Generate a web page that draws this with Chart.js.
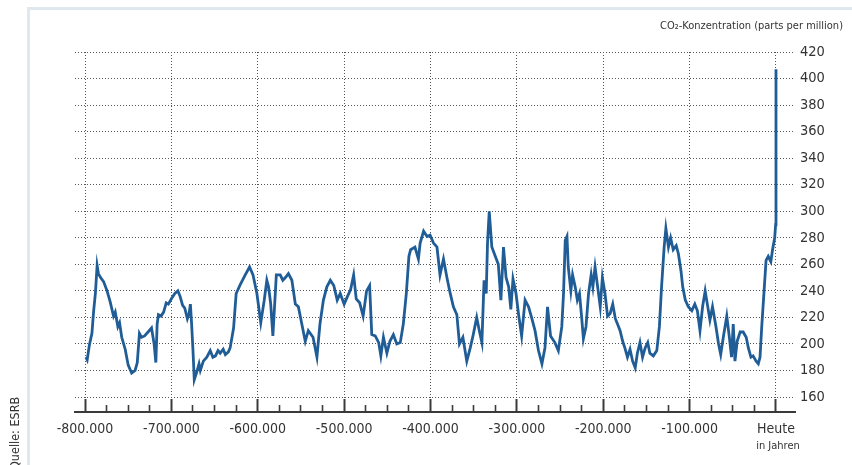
<!DOCTYPE html>
<html><head><meta charset="utf-8">
<script src="https://cdn.jsdelivr.net/npm/chart.js@4"></script>
<style>
html,body{margin:0;padding:0;background:#fff;}
#wrap{position:relative;width:852px;height:465px;overflow:hidden;background:#fff;}
#frame{position:absolute;left:27px;top:7px;right:-5px;bottom:-5px;border-top:3px solid #dfe7ef;border-left:3px solid #dfe7ef;}
canvas{position:absolute;left:0;top:0;}
</style></head><body>
<div id="wrap"><div id="frame"></div><canvas id="c" width="852" height="465"></canvas></div>
<script>
// Years before present, in thousands of years (kyr)
const yearsKyr = [-799,-797.5,-795,-792,-790,-788,-786,-784.5,-782,-778.5,-774.5,-771,-767,-765,-762,-760,-757.5,-753.5,-750,-746,-742,-739.5,-737,-734.5,-731,-727,-723,-720,-718,-716.5,-715,-712,-709,-706,-703.5,-700,-696,-692.5,-690,-687,-684.5,-681.5,-679.5,-678,-676.5,-675,-673.5,-671,-668,-666.5,-663,-659,-655,-652,-649,-646,-643.5,-640,-637.5,-634,-632,-628,-625,-620,-614.5,-609.5,-605.5,-601,-596.5,-592.5,-589.5,-587.5,-585,-582.5,-578.5,-574,-571,-568,-564.5,-560.5,-556.5,-553,-549,-545,-541.5,-536,-531.5,-528,-524,-520,-516,-512,-508,-504.5,-500,-496,-492.5,-489,-486,-482,-478,-474,-470.5,-468,-464,-460,-457.5,-454.5,-450.5,-447,-443,-439,-435,-431.5,-428,-425,-423,-418,-414,-412,-408,-404,-400.5,-396.5,-392.5,-389,-385,-381,-377.5,-373.5,-369.5,-366.5,-362.5,-358,-354,-350.5,-346.5,-343.5,-340.5,-338,-335.5,-334,-332,-329,-325,-321.5,-318.5,-315.5,-312.5,-309.5,-307,-304.5,-301,-298,-294.5,-290.5,-286.5,-283,-279,-275,-271,-267.5,-264.5,-261,-256,-252,-248,-246,-244,-242,-240.5,-237.5,-235.5,-232.5,-230,-227.5,-225,-223,-220,-217,-214,-212,-209.5,-206.5,-203.5,-201,-198,-195,-192,-189,-186,-183.5,-180.5,-177.5,-175,-172,-169,-166,-163,-160.5,-157.5,-154.5,-151.5,-148.5,-146,-142,-138,-135,-132.5,-129.5,-127.5,-124.5,-122,-119,-115.5,-113,-110,-108,-105,-101.5,-97.5,-94,-91,-88,-85,-82,-79.5,-76.5,-73.5,-69.5,-66.5,-64,-61,-57,-54,-51.5,-49.5,-47.5,-45,-41.5,-38,-34.5,-32,-29,-26.5,-23,-20.5,-18.5,-16.5,-14.5,-11.5,-9,-6,-4,-1.5,-0.4,0];
// CO2 concentration in ppm
const co2ppm = [190,188,199,208,225,238,259,253,250,247,240,232,221,224,213,216,205,196,184,178,180,186,208,205,206,209,212,200,186,215,222,221,224,231,230,234,238,240,236,229,227,219,223,230,214,195,173,178,185,180,187,190,195,190,191,195,193,196,192,194,197,212,238,245,252,258,252,238,216,233,248,243,230,206,252,252,248,250,253,248,230,228,215,202,210,205,190,215,233,243,248,244,233,238,230,236,241,252,234,231,221,240,244,207,206,201,191,205,193,202,207,200,201,215,238,266,271,273,264,276,285,281,282,276,273,252,264,250,239,228,222,200,205,187,197,207,220,210,201,248,238,276,300,273,266,260,233,273,250,243,226,249,238,222,206,233,228,220,210,195,185,197,228,206,201,195,213,238,278,281,258,240,252,243,233,238,220,204,213,238,252,243,258,243,228,250,238,221,223,230,219,215,210,202,197,190,196,187,182,193,201,190,197,201,193,191,195,213,243,273,287,273,280,271,274,268,255,243,233,228,225,230,225,210,228,240,230,218,228,213,200,192,205,221,205,190,215,187,202,209,209,205,197,190,191,187,185,190,213,233,263,266,262,271,280,290,407];

const xTickValues = [-800,-700,-600,-500,-400,-300,-200,-100,0];
const xTickLabels = ['-800.000','-700.000','-600.000','-500.000','-400.000','-300.000','-200.000','-100.000','Heute'];
const titleText = 'CO\u2082-Konzentration (parts per million)';
const unitText = 'in Jahren';
const sourceText = 'Quelle: ESRB';

const FONT = "'Liberation Sans Narrow','DejaVu Sans Condensed','Roboto Condensed',sans-serif";
const TXT = '#333333';
const GRID = '#555555';
const isMajor = v => Math.abs(v % 100) < 1e-6;

const extraText = {
  id: 'extraText',
  afterDraw(chart) {
    const ctx = chart.ctx;
    const xs = chart.scales.x;
    ctx.save();
    ctx.fillStyle = TXT;
    ctx.font = '11px ' + FONT;
    ctx.textAlign = 'center';
    ctx.textBaseline = 'middle';
    ctx.fillText(unitText, xs.getPixelForValue(0) + 2, 446);
    ctx.translate(16, 470);
    ctx.rotate(-Math.PI / 2);
    ctx.textAlign = 'left';
    ctx.font = '12.5px ' + FONT;
    ctx.fillText(sourceText, 0, 0);
    ctx.restore();
  }
};

new Chart(document.getElementById('c'), {
  type: 'line',
  data: {
    datasets: [{
      data: yearsKyr.map((x, i) => ({x: x, y: co2ppm[i]})),
      borderColor: '#205d96',
      borderWidth: 2.8,
      pointRadius: 0,
      tension: 0,
      fill: false
    }]
  },
  options: {
    responsive: false,
    animation: false,
    devicePixelRatio: 1,
    layout: {padding: {left: 75, right: 9, top: 0, bottom: 0}},
    plugins: {
      legend: {display: false},
      tooltip: {enabled: false},
      title: {
        display: true, text: titleText, align: 'end', color: TXT,
        font: {family: FONT, size: 11, weight: 'normal'},
        padding: {top: 19.4, bottom: 19.4}
      }
    },
    scales: {
      x: {
        type: 'linear', position: 'bottom', min: -811.6, max: 22,
        afterFit: s => { s.height = 53; },
        ticks: {
          stepSize: 25, includeBounds: false, autoSkip: false, maxRotation: 0,
          padding: 22, color: TXT, font: {family: FONT, size: 14},
          callback: v => { const i = xTickValues.indexOf(Math.round(v)); return (isMajor(v) && i >= 0) ? xTickLabels[i] : ''; }
        },
        grid: {
          color: c => isMajor(c.tick.value) ? GRID : 'rgba(0,0,0,0)',
          lineWidth: 1,
          drawTicks: true,
          tickLength: -13,
          tickColor: '#3a3a3a',
          tickWidth: c => isMajor(c.tick.value) ? 2 : 1.6,
          tickBorderDash: c => isMajor(c.tick.value) ? [] : [8, 30]
        },
        border: {display: true, color: '#3a3a3a', width: 2, dash: [1, 2]}
      },
      y: {
        position: 'right', min: 148.7, max: 420,
        afterFit: s => { s.width = 48; },
        ticks: {
          stepSize: 20, includeBounds: false, padding: 5, color: TXT,
          font: {family: FONT, size: 14.5},
          callback: v => String(Math.round(v))
        },
        grid: {color: GRID, lineWidth: 1, drawTicks: false},
        border: {display: false, dash: [1, 2]}
      }
    }
  },
  plugins: [extraText]
});
</script>
</body></html>
